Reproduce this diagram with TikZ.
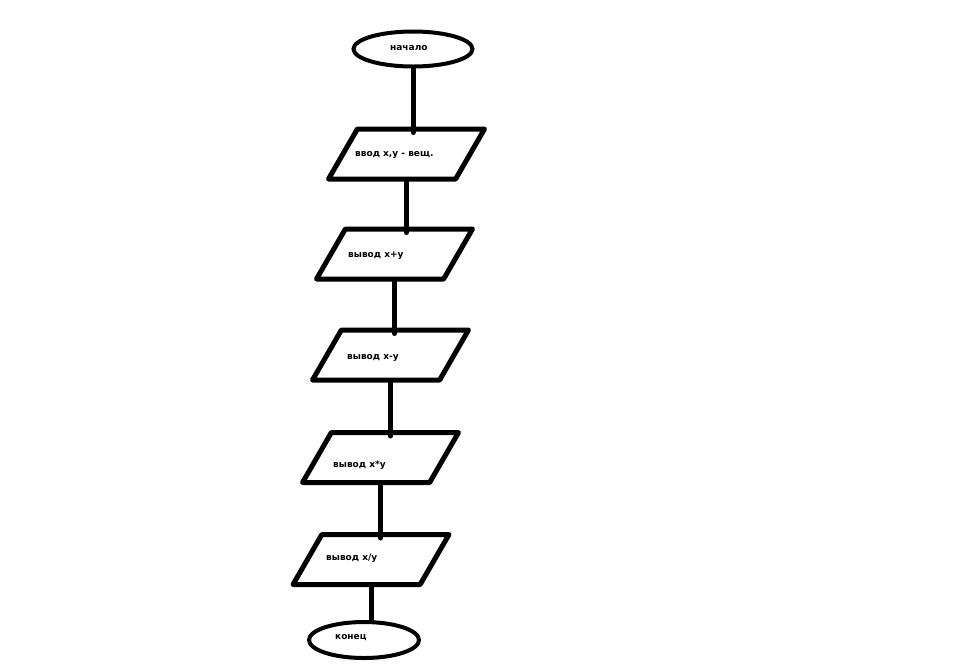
\documentclass[tikz,border=0pt]{standalone}
\usepackage{fontspec}
\setmainfont{DejaVu Sans}
\usepackage{tikz}
\usetikzlibrary{positioning,shapes.geometric,calc}

\tikzset{
  term/.style={ellipse,draw,line width=4pt,minimum width=119pt,minimum height=35pt,inner sep=0pt},
  io/.style={trapezium,trapezium left angle=60,trapezium right angle=120,trapezium stretches body=true,
    draw,line width=5pt,line join=round,minimum width=156pt,inner xsep=2pt,inner ysep=25pt},
  lbl/.style={anchor=west,inner sep=0pt,font=\bfseries\fontsize{9}{10}\selectfont},
  flow/.style={line width=5pt,line cap=round},
}

\begin{document}
\begin{tikzpicture}[x=1pt,y=-1pt]
\useasboundingbox[fill=white] (0,0) rectangle (966,665);
% blocks
\node[term] (start) at (413,49) {};
\node[io] (in1) at (406.5,154) {};
\node[io] (out1) at (394.5,254) {};
\node[io] (out2) at (390.5,355) {};
\node[io] (out3) at (380.5,457.5) {};
\node[io] (out4) at (371,559.5) {};
\node[term,minimum width=110pt,minimum height=36pt] (stop) at (364,640) {};
% texts
\node[lbl] (tstart) at (390,48) {начало};
\node[lbl] (tin1) at (355,155) {ввод x,y - вещ.};
\node[lbl] (tout1) at (348,256) {вывод x+y};
\node[lbl] (tout2) at (347,358) {вывод x-y};
\node[lbl] (tout3) at (333,465) {вывод x*y};
\node[lbl] (tout4) at (326,558) {вывод x/y};
\node[lbl] (tstop) at (335,638) {конец};
% connectors
\draw[flow] (start.south) -- ([yshift=-6pt]start.south |- in1.north);
\draw[flow] (in1.south) -- ([yshift=-6pt]in1.south |- out1.north);
\draw[flow] (out1.south) -- ([yshift=-6pt]out1.south |- out2.north);
\draw[flow] (out2.south) -- ([yshift=-6pt]out2.south |- out3.north);
\draw[flow] (out3.south) -- ([yshift=-6pt]out3.south |- out4.north);
\draw[flow] (out4.south) -- (out4.south |- stop.north);
\end{tikzpicture}
\end{document}
